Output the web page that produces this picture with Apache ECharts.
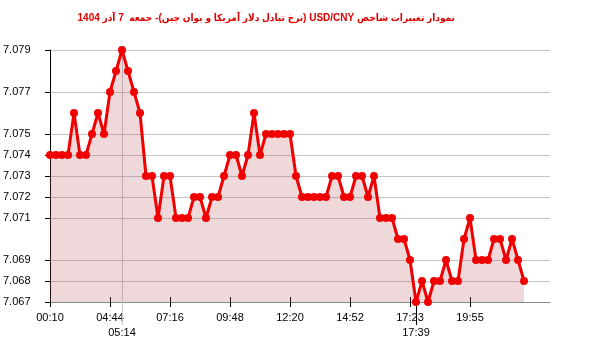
<!DOCTYPE html>
<html>
<head>
<meta charset="utf-8">
<script src="https://cdn.jsdelivr.net/npm/echarts@6/dist/echarts.min.js"></script>
<style>
html,body{margin:0;padding:0;background:#fff;}
#chart{width:600px;height:352px;}
</style>
</head>
<body>
<div dir="rtl"><div id="chart" dir="rtl"></div></div>
<script>
const titleText = 'نمودار تغییرات شاخص USD/CNY (نرخ تبادل دلار آمریکا و یوان چین)- جمعه  7 آذر 1404';

const times = [
  '00:10','02:28','02:43','02:58','03:13','03:28','03:43','03:58','04:13','04:29',
  '04:44','04:59','05:14','05:29','05:44','05:59','06:14','06:30','06:45','07:00',
  '07:16','07:31','07:46','08:01','08:16','08:32','08:47','09:02','09:17','09:32',
  '09:48','10:03','10:18','10:33','10:48','11:04','11:19','11:34','11:49','12:04',
  '12:20','12:35','12:50','13:05','13:20','13:36','13:51','14:06','14:21','14:36',
  '14:52','15:07','15:22','15:37','15:52','16:08','16:23','16:38','16:53','17:08',
  '17:23','17:39','17:54','18:09','18:24','18:39','18:54','19:10','19:25','19:40',
  '19:55','20:10','20:25','20:40','20:56','21:11','21:26','21:41','21:56','22:11'
];

const values = [
  7.074,7.074,7.074,7.074,7.076,7.074,7.074,7.075,7.076,7.075,
  7.077,7.078,7.079,7.078,7.077,7.076,7.073,7.073,7.071,7.073,
  7.073,7.071,7.071,7.071,7.072,7.072,7.071,7.072,7.072,7.073,
  7.074,7.074,7.073,7.074,7.076,7.074,7.075,7.075,7.075,7.075,
  7.075,7.073,7.072,7.072,7.072,7.072,7.072,7.073,7.073,7.072,
  7.072,7.073,7.073,7.072,7.073,7.071,7.071,7.071,7.070,7.070,
  7.069,7.067,7.068,7.067,7.068,7.068,7.069,7.068,7.068,7.070,
  7.071,7.069,7.069,7.069,7.070,7.070,7.069,7.070,7.069,7.068
];

const yLabelValues = [7.067,7.068,7.069,7.071,7.072,7.073,7.074,7.075,7.077,7.079];
const xLabelIndices = [0,10,20,30,40,50,60,70];

const maxIdx = values.indexOf(Math.max(...values));
const minIdx = values.indexOf(Math.min(...values));
const markers = [[maxIdx, values[maxIdx], 1], [minIdx, values[minIdx], 0]];

const FONT = 'Liberation Sans';
const chart = echarts.init(document.getElementById('chart'), null, {renderer:'canvas'});

chart.setOption({
  animation: false,
  backgroundColor: '#fff',
  title: {
    text: titleText,
    right: 140,
    top: 8,
    textStyle: {color:'#e00000', fontSize: 10, fontWeight:'bold', fontFamily:'"Liberation Sans", "DejaVu Sans Condensed", "DejaVu Sans"'}
  },
  grid: {left: 50, right: 50, top: 50, bottom: 50},
  xAxis: [{
    type: 'value',
    min: 0,
    max: 83.33,
    axisLine: {show:true, onZero:false, lineStyle:{color:'#888', width:1}},
    axisTick: {show:true, inside:true, length:5, customValues: xLabelIndices, lineStyle:{color:'#000'}},
    axisLabel: {
      customValues: xLabelIndices,
      formatter: v => times[Math.round(v)],
      margin: 10,
      color: '#000',
      fontSize: 11,
      fontFamily: FONT
    },
    splitLine: {show:false}
  },{
    type: 'value',
    position: 'bottom',
    min: 0,
    max: 83.33,
    axisLine: {show:false},
    axisTick: {show:true, inside:false, length:5, customValues: xLabelIndices, lineStyle:{color:'#000'}},
    axisLabel: {show:false},
    splitLine: {show:false}
  }],
  yAxis: {
    type: 'value',
    min: 7.067,
    max: 7.079,
    interval: 0.001,
    axisLine: {show:true, lineStyle:{color:'#000', width:1}},
    axisTick: {show:true, length:5, customValues: yLabelValues, lineStyle:{color:'#000'}},
    axisLabel: {
      customValues: yLabelValues,
      formatter: v => v.toFixed(3),
      align: 'left',
      margin: 47,
      padding: [0,0,5,0],
      color: '#000',
      fontSize: 11,
      fontFamily: FONT
    },
    splitLine: {show:true, lineStyle:{color:'#c4c4c4', width:1}}
  },
  series: [{
    type: 'custom',
    xAxisIndex: 0,
    clip: false,
    z: 1,
    silent: true,
    data: markers,
    renderItem: function(params, api){
      const idx = api.value(0), v = api.value(1), kind = api.value(2);
      const p = api.coord([idx, v]);
      const cs = params.coordSys;
      const bottom = cs.y + cs.height;
      const x = Math.round(p[0]) + 0.5;
      const line = kind === 1
        ? {type:'line', shape:{x1:x, y1:cs.y, x2:x, y2:bottom+23}, style:{stroke:'#c8c8c8', lineWidth:1}}
        : {type:'line', shape:{x1:x, y1:bottom-5, x2:x, y2:bottom+23}, style:{stroke:'#000', lineWidth:1}};
      return {type:'group', children:[
        line,
        {type:'text', x: p[0], y: bottom+31, style:{text: times[idx], align:'center', verticalAlign:'middle', fill:'#000', font:'11px "Liberation Sans"'}}
      ]};
    }
  },{
    type: 'line',
    xAxisIndex: 0,
    z: 2,
    data: values.map((v,i) => [i, v]),
    symbol: 'circle',
    symbolSize: 8,
    showSymbol: true,
    itemStyle: {color:'#f00000'},
    lineStyle: {color:'#f00000', width:3},
    areaStyle: {color:'rgba(175,70,75,0.3)', origin:'start'}
  }]
});
</script>
</body>
</html>
